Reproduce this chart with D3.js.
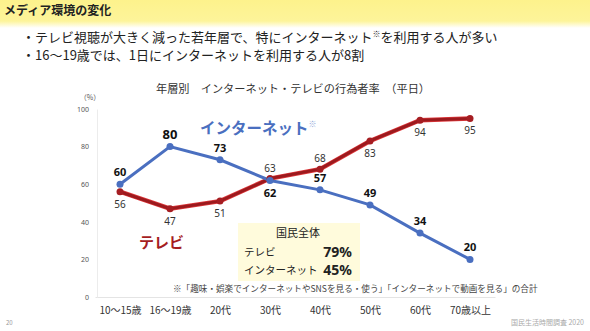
<!DOCTYPE html>
<html>
<head>
<meta charset="utf-8">
<script src="https://cdn.jsdelivr.net/npm/d3@7"></script>
<style>
  body { margin: 0; background: #fff; }
  svg { display: block; font-family: "Noto Sans CJK JP", "Noto Sans", sans-serif; }
</style>
</head>
<body>
<div id="chart-area"></div>
<script>
// data
var categories = ["10～15歳", "16～19歳", "20代", "30代", "40代", "50代", "60代", "70歳以上"];
var internet = [60, 80, 73, 62, 57, 49, 34, 20];
var tv = [56, 47, 51, 63, 68, 83, 94, 95];
var yTicks = [0, 20, 40, 60, 80, 100];
// label side: -1 above, 1 below
var internetLabelPos = [-1, -1, -1, 1, -1, -1, -1, -1];
var tvLabelPos = [1, 1, 1, -1, -1, 1, 1, 1];
var totalsLabels = ["テレビ", "インターネット"];
var totalsValues = ["79%", "45%"];

var width = 590, height = 331;

var svg = d3.select("#chart-area").append("svg")
            .attr("width", width)
            .attr("height", height);

var defs = svg.append("defs");
var grad = defs.append("linearGradient")
               .attr("id", "hdr")
               .attr("x1", 0).attr("y1", 0).attr("x2", 0).attr("y2", 1);
grad.append("stop").attr("offset", "0%").attr("stop-color", "#fdf28c");
grad.append("stop").attr("offset", "75%").attr("stop-color", "#fdf49a");
grad.append("stop").attr("offset", "100%").attr("stop-color", "#ffffff");

svg.append("rect")
   .attr("x", 0).attr("y", 0)
   .attr("width", width).attr("height", 28)
   .attr("fill", "url(#hdr)");

svg.append("text")
   .attr("x", 4).attr("y", 15)
   .attr("font-size", "12px")
   .attr("font-weight", "bold")
   .attr("fill", "#222")
   .text("メディア環境の変化");

var bullet1 = svg.append("text")
   .attr("x", 22).attr("y", 42)
   .attr("font-size", "13px")
   .attr("fill", "#222");
bullet1.append("tspan").text("・テレビ視聴が大きく減った若年層で、特にインターネット");
bullet1.append("tspan").attr("font-size", "8px").attr("baseline-shift", "5").text("※");
bullet1.append("tspan").text("を利用する人が多い");

svg.append("text")
   .attr("x", 22).attr("y", 60)
   .attr("font-size", "13px")
   .attr("fill", "#222")
   .text("・16～19歳では、1日にインターネットを利用する人が8割");

svg.append("text")
   .attr("x", 293).attr("y", 93)
   .attr("font-size", "11.2px")
   .attr("text-anchor", "middle")
   .attr("fill", "#333")
   .text("年層別　インターネット・テレビの行為者率　（平日）");

var x = d3.scalePoint()
          .domain(categories)
          .range([95, 495])
          .padding(0.5);

var y = d3.scaleLinear()
          .domain([0, 100])
          .range([297, 109]);

// axes
var xAxisGroup = svg.append("g")
                    .attr("transform", "translate(0, 297)")
                    .call(d3.axisBottom(x).tickSize(0).tickPadding(10));
xAxisGroup.select(".domain").attr("stroke", "#e4e4e4");
xAxisGroup.selectAll("text")
          .attr("font-size", "10px")
          .attr("fill", "#333")
          .attr("font-family", "'Noto Sans CJK JP', sans-serif");

var yAxisGroup = svg.append("g")
                    .attr("transform", "translate(97, 0)")
                    .call(d3.axisLeft(y).tickValues(yTicks).tickSize(0).tickPadding(8));
yAxisGroup.select(".domain").attr("stroke", "#ececec");
yAxisGroup.selectAll("text")
          .attr("font-size", "7px")
          .attr("fill", "#555")
          .attr("font-family", "'Noto Sans', sans-serif");

svg.append("text")
   .attr("x", 90).attr("y", 100)
   .attr("font-size", "7px")
   .attr("text-anchor", "middle")
   .attr("fill", "#555")
   .text("（%）");

// totals box
svg.append("rect")
   .attr("x", 238).attr("y", 223)
   .attr("width", 122).attr("height", 58)
   .attr("fill", "#fffbdc");

svg.append("text")
   .attr("x", 298).attr("y", 237)
   .attr("font-size", "11px")
   .attr("text-anchor", "middle")
   .attr("fill", "#222")
   .text("国民全体");

totalsLabels.forEach(function(lab, i){
  svg.append("text")
     .attr("x", 244).attr("y", 256 + i * 18)
     .attr("font-size", "10.5px")
     .attr("fill", "#222")
     .text(lab);
  svg.append("text")
     .attr("x", 352).attr("y", 257 + i * 18)
     .attr("font-size", "14px")
     .attr("font-weight", "bold")
     .attr("text-anchor", "end")
     .attr("fill", "#222")
     .attr("font-family", "'Noto Sans', sans-serif")
     .text(totalsValues[i]);
});

svg.append("text")
   .attr("x", 173).attr("y", 292)
   .attr("font-size", "8.6px")
   .attr("fill", "#444")
   .text("※「趣味・娯楽でインターネットやSNSを見る・使う」「インターネットで動画を見る」の合計");

// lines
var line = function(vals){
  return d3.line()
           .x(function(d, i){ return x(categories[i]); })
           .y(function(d){ return y(d); })(vals);
};

svg.append("path")
   .attr("d", line(tv))
   .attr("fill", "none")
   .attr("stroke", "#e0393c")
   .attr("stroke-width", 4.5);
svg.append("path")
   .attr("d", line(tv))
   .attr("fill", "none")
   .attr("stroke", "#9c1a1e")
   .attr("stroke-width", 3);

svg.append("path")
   .attr("d", line(internet))
   .attr("fill", "none")
   .attr("stroke", "#4a6fc0")
   .attr("stroke-width", 3);

svg.selectAll(".tvdot")
   .data(tv)
   .enter().append("circle")
   .attr("class", "tvdot")
   .attr("cx", function(d, i){ return x(categories[i]); })
   .attr("cy", function(d){ return y(d); })
   .attr("r", 3.5)
   .attr("fill", "#a51d22");

svg.selectAll(".netdot")
   .data(internet)
   .enter().append("circle")
   .attr("class", "netdot")
   .attr("cx", function(d, i){ return x(categories[i]); })
   .attr("cy", function(d){ return y(d); })
   .attr("r", 3.5)
   .attr("fill", "#4a6fc0");

// value labels
svg.selectAll(".tvlab")
   .data(tv)
   .enter().append("text")
   .attr("class", "tvlab")
   .attr("x", function(d, i){ return x(categories[i]); })
   .attr("y", function(d, i){ return y(d) + (tvLabelPos[i] > 0 ? 16 : -7); })
   .attr("text-anchor", "middle")
   .attr("font-size", "10px")
   .attr("font-family", "'Noto Sans', sans-serif")
   .attr("fill", "#333")
   .text(function(d){ return d; });

svg.selectAll(".netlab")
   .data(internet)
   .enter().append("text")
   .attr("class", "netlab")
   .attr("x", function(d, i){ return x(categories[i]); })
   .attr("y", function(d, i){ return y(d) + (internetLabelPos[i] > 0 ? 17 : -8); })
   .attr("text-anchor", "middle")
   .attr("font-size", function(d, i){ return i == 1 ? "13px" : "11px"; })
   .attr("font-weight", "bold")
   .attr("font-family", "'Noto Sans', sans-serif")
   .attr("fill", "#111")
   .text(function(d){ return d; });

// series names
var netName = svg.append("text")
   .attr("x", 200).attr("y", 134)
   .attr("font-size", "15.5px")
   .attr("font-weight", "bold")
   .attr("fill", "#4a6fc0");
netName.append("tspan").text("インターネット");
netName.append("tspan")
   .attr("font-size", "8px")
   .attr("baseline-shift", "7")
   .attr("fill", "#8ea6d8")
   .text("※");

svg.append("text")
   .attr("x", 139).attr("y", 248)
   .attr("font-size", "15px")
   .attr("font-weight", "bold")
   .attr("fill", "#a51d22")
   .text("テレビ");

// footer
svg.append("text")
   .attr("x", 6).attr("y", 325)
   .attr("font-size", "6px")
   .attr("fill", "#999")
   .text("20");

svg.append("text")
   .attr("x", 584).attr("y", 325)
   .attr("font-size", "7px")
   .attr("text-anchor", "end")
   .attr("fill", "#aaa")
   .text("国民生活時間調査 2020");
</script>
</body>
</html>
